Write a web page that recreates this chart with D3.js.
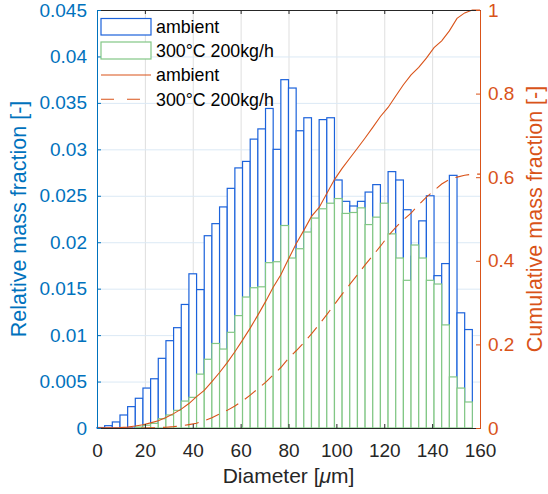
<!DOCTYPE html>
<html>
<head>
<meta charset="utf-8">
<script src="https://cdn.jsdelivr.net/npm/d3@7"></script>
<style>
  body { margin: 0; background: #fff; }
  svg { display: block; font-family: "Liberation Sans", Arial, sans-serif; }
</style>
</head>
<body>
<svg id="chart" width="548" height="494"></svg>
<script>
// bin edges (diameter, µm)
const binEdges = [0, 3.2, 6.4, 9.6, 12.8, 16, 19.2, 22.4, 25.6, 28.8, 32, 35.2, 38.4, 41.6, 44.8, 48,
  51.2, 54.4, 57.6, 60.8, 64, 67.2, 70.4, 73.6, 76.8, 80, 83.2, 86.4, 89.6, 92.8, 96, 99.2, 102.4,
  105.6, 108.8, 112, 115.2, 118.4, 121.6, 124.8, 128, 131.2, 134.4, 137.6, 140.8, 144, 147.2,
  150.4, 153.6, 156.8, 160];

// relative mass fraction per bin
const ambient = [0.00005, 0.00025, 0.00065, 0.0014, 0.0023, 0.0032, 0.0043, 0.0053, 0.0075, 0.0094,
  0.0108, 0.0133, 0.0166, 0.0149, 0.0207, 0.0220, 0.0238, 0.0258, 0.0280, 0.0287,
  0.0311, 0.0322, 0.0344, 0.0300, 0.0375, 0.0366, 0.0320, 0.0334, 0.0215, 0.0332,
  0.0334, 0.0267, 0.0244, 0.0239, 0.0244, 0.0254, 0.0262, 0.0220, 0.0276, 0.0267,
  0.0235, 0.0185, 0.0223, 0.0250, 0.0164, 0.0177, 0.0272, 0.0124, 0.0106, 0];

const heated = [0, 0, 0, 0, 0, 0.0001, 0.0003, 0.0005, 0.0010, 0.0014,
  0.0019, 0.0029, 0.0033, 0.0058, 0.0074, 0.0091, 0.0085, 0.0103, 0.0121, 0.0141,
  0.0151, 0.0152, 0.0178, 0.0179, 0.0218, 0.0183, 0.0193, 0.0211, 0.0226, 0.0236,
  0.0242, 0.0247, 0.0231, 0.0232, 0.0237, 0.0219, 0.0227, 0.0242, 0.0209, 0.0183,
  0.0159, 0.0197, 0.0183, 0.0159, 0.0155, 0.0111, 0.0055, 0.0043, 0.0028, 0];

// cumulative mass fraction at each bin edge
const cdfAmbient = [0, 0.0001, 0.0004, 0.001, 0.0024, 0.0047, 0.0079, 0.0122, 0.0175, 0.025,
  0.0344, 0.0452, 0.0585, 0.0751, 0.09, 0.1107, 0.1327, 0.1565, 0.1823, 0.2103,
  0.239, 0.2701, 0.3023, 0.3367, 0.3667, 0.4042, 0.4408, 0.4728, 0.5062, 0.5277,
  0.5609, 0.5943, 0.621, 0.6454, 0.6693, 0.6937, 0.7191, 0.7453, 0.7668, 0.7944,
  0.8211, 0.8446, 0.8626, 0.8849, 0.9099, 0.9263, 0.95, 0.98, 0.993, 1.0, 1.0];

const cdfHeated = [0, 0, 0, 0, 0, 0, 0.0001, 0.0004, 0.0009, 0.0019,
  0.0033, 0.0052, 0.0081, 0.0114, 0.0172, 0.0246, 0.0337, 0.0422, 0.0525, 0.0646,
  0.0787, 0.0938, 0.109, 0.1268, 0.1447, 0.1665, 0.1848, 0.2041, 0.2252, 0.2478,
  0.2714, 0.2956, 0.3203, 0.3434, 0.3666, 0.3903, 0.4122, 0.4349, 0.4591, 0.48,
  0.4983, 0.5142, 0.5339, 0.5522, 0.5681, 0.5836, 0.5947, 0.6002, 0.6045, 0.6073, 0.6073];

const xTicks = [0, 20, 40, 60, 80, 100, 120, 140, 160];
const leftTicks = [0, 0.005, 0.01, 0.015, 0.02, 0.025, 0.03, 0.035, 0.04, 0.045];
const leftTickLabels = ['0', '0.005', '0.01', '0.015', '0.02', '0.025', '0.03', '0.035', '0.04', '0.045'];
const rightTicks = [0, 0.2, 0.4, 0.6, 0.8, 1];
const rightTickLabels = ['0', '0.2', '0.4', '0.6', '0.8', '1'];
const seriesNames = ['ambient', '300°C 200kg/h'];

const blue = '#0072BD';
const orange = '#D95319';
const dark = '#262626';
const barBlue = '#1b62db';
const barGreen = '#82c785';

const plotLeft = 97, plotRight = 480, plotTop = 10, plotBottom = 428;

let svg = d3.select('#chart');

let x = d3.scaleLinear().domain([0, 160]).range([plotLeft, plotRight]);
let yL = d3.scaleLinear().domain([0, 0.045]).range([plotBottom, plotTop]);
let yR = d3.scaleLinear().domain([0, 1]).range([plotBottom, plotTop]);

// grid
svg.append('g')
  .attr('transform', `translate(0,${plotBottom})`)
  .call(d3.axisBottom(x).tickValues(xTicks).tickSize(-(plotBottom - plotTop)).tickFormat(''))
  .call(g => g.select('.domain').remove())
  .call(g => g.selectAll('line').attr('stroke', '#dfdfdf'));

svg.append('g')
  .attr('transform', `translate(${plotLeft},0)`)
  .call(d3.axisLeft(yL).tickValues(leftTicks).tickSize(-(plotRight - plotLeft)).tickFormat(''))
  .call(g => g.select('.domain').remove())
  .call(g => g.selectAll('line').attr('stroke', '#dbe9f5'));

// histograms
function drawBars(values, color) {
  let bins = values.map((v, i) => ({ x0: binEdges[i], x1: binEdges[i + 1], v: v }));
  svg.append('g')
    .selectAll('rect')
    .data(bins)
    .join('rect')
    .attr('x', d => x(d.x0))
    .attr('y', d => yL(d.v))
    .attr('width', d => x(d.x1) - x(d.x0))
    .attr('height', d => yL(0) - yL(d.v))
    .attr('fill', '#fff')
    .attr('stroke', color)
    .attr('stroke-width', 1.2);
}

drawBars(ambient, barBlue);
drawBars(heated, barGreen);

// cumulative curves
let line = d3.line().x((d, i) => x(binEdges[i])).y(d => yR(d));

svg.append('path')
  .attr('d', line(cdfAmbient))
  .attr('fill', 'none')
  .attr('stroke', orange)
  .attr('stroke-width', 1.1);

svg.append('path')
  .attr('d', line(cdfHeated))
  .attr('fill', 'none')
  .attr('stroke', orange)
  .attr('stroke-width', 1.1)
  .attr('stroke-dasharray', '14,8');

// axes
let xAxis = svg.append('g')
  .attr('transform', `translate(0,${plotBottom})`)
  .call(d3.axisBottom(x).tickValues(xTicks).tickSize(-4).tickPadding(16));

let xAxisTop = svg.append('g')
  .attr('transform', `translate(0,${plotTop})`)
  .call(d3.axisTop(x).tickValues(xTicks).tickSize(-4).tickFormat(''));

let yAxisL = svg.append('g')
  .attr('transform', `translate(${plotLeft},0)`)
  .call(d3.axisLeft(yL).tickValues(leftTicks).tickSize(-4).tickPadding(10)
    .tickFormat((d, i) => leftTickLabels[i]));

let yAxisR = svg.append('g')
  .attr('transform', `translate(${plotRight},0)`)
  .call(d3.axisRight(yR).tickValues(rightTicks).tickSize(-4).tickPadding(8)
    .tickFormat((d, i) => rightTickLabels[i]));

[xAxis, xAxisTop, yAxisL, yAxisR].forEach(g => {
  g.attr('font-family', null).attr('font-size', 19);
});

xAxis.select('.domain').attr('stroke', dark);
xAxis.selectAll('.tick line').attr('stroke', dark);
xAxis.selectAll('text').attr('fill', dark);
xAxisTop.select('.domain').attr('stroke', dark);
xAxisTop.selectAll('.tick line').attr('stroke', dark);

yAxisL.select('.domain').attr('stroke', blue);
yAxisL.selectAll('.tick line').attr('stroke', blue);
yAxisL.selectAll('text').attr('fill', blue);

yAxisR.select('.domain').attr('stroke', orange);
yAxisR.selectAll('.tick line').attr('stroke', orange);
yAxisR.selectAll('text').attr('fill', orange);

// axis labels
let xLabel = svg.append('text')
  .attr('x', (plotLeft + plotRight) / 2)
  .attr('y', 483)
  .attr('text-anchor', 'middle')
  .attr('font-size', 21)
  .attr('fill', dark);
xLabel.append('tspan').text('Diameter [');
xLabel.append('tspan').attr('font-style', 'italic').text('μ');
xLabel.append('tspan').text('m]');

svg.append('text')
  .attr('transform', `translate(26,${(plotTop + plotBottom) / 2}) rotate(-90)`)
  .attr('text-anchor', 'middle')
  .attr('font-size', 21.5)
  .attr('fill', blue)
  .text('Relative mass fraction [-]');

svg.append('text')
  .attr('transform', `translate(542,${(plotTop + plotBottom) / 2}) rotate(-90)`)
  .attr('text-anchor', 'middle')
  .attr('font-size', 21.5)
  .attr('fill', orange)
  .text('Cumulative mass fraction [-]');

// legend
let legend = svg.append('g');
let rowY = [26.7, 50.5, 75, 99.3];

legend.append('rect').attr('x', 101).attr('y', 18.5).attr('width', 50).attr('height', 16.5)
  .attr('fill', '#fff').attr('stroke', barBlue).attr('stroke-width', 1.2);
legend.append('rect').attr('x', 101).attr('y', 42).attr('width', 50).attr('height', 17)
  .attr('fill', '#fff').attr('stroke', barGreen).attr('stroke-width', 1.2);
legend.append('line').attr('x1', 101).attr('x2', 151).attr('y1', rowY[2]).attr('y2', rowY[2])
  .attr('stroke', orange).attr('stroke-width', 1.1);
legend.append('line').attr('x1', 101).attr('x2', 151).attr('y1', rowY[3]).attr('y2', rowY[3])
  .attr('stroke', orange).attr('stroke-width', 1.1).attr('stroke-dasharray', '13,13');

[seriesNames[0], seriesNames[1], seriesNames[0], seriesNames[1]].forEach((name, i) => {
  legend.append('text')
    .attr('x', 156)
    .attr('y', rowY[i] + 6.3)
    .attr('font-size', 17.8)
    .attr('fill', '#000')
    .text(name);
});
</script>
</body>
</html>
